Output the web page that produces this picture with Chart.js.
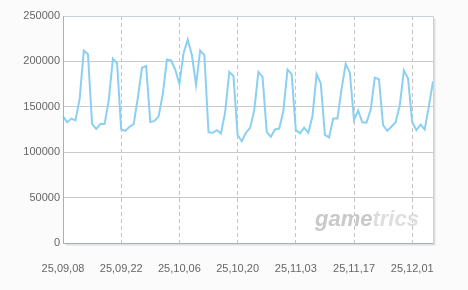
<!DOCTYPE html>
<html>
<head>
<meta charset="utf-8">
<script src="https://cdn.jsdelivr.net/npm/chart.js@4/dist/chart.umd.min.js"></script>
<style>
  html, body { margin: 0; padding: 0; background: #fbfbfb; }
  #chart { display: block; }
</style>
</head>
<body>
<canvas id="chart" width="468" height="290"></canvas>
<script>
// daily values, 2025-09-08 .. 2025-12-06
const startDate = [2025, 9, 8];
const dayCount = 90;
const values = [
  139500, 133000, 137000, 135000, 158700, 212000, 208000, 131000, 125700, 131000,
  131000, 157000, 203000, 198000, 125000, 123500, 128000, 131000, 160000, 193000,
  195000, 133000, 134500, 139500, 164000, 202000, 201000, 191000, 175000, 209000,
  224000, 207000, 174000, 212000, 207000, 122000, 121400, 124300, 120700, 144200,
  188400, 184000, 119000, 112000, 121400, 126800, 146000, 188400, 183000, 122500,
  117000, 125000, 126000, 145000, 191000, 186000, 124300, 120700, 127000, 121400,
  139500, 186000, 175700, 119000, 116300, 137000, 137000, 169500, 197400, 187600,
  135200, 146000, 133000, 132600, 146700, 182200, 180400, 129700, 123600, 128000,
  133000, 151400, 190000, 181000, 133000, 124300, 130400, 125000, 150400, 177900
];
const tickLabels = ["25,09,08", "25,09,22", "25,10,06", "25,10,20", "25,11,03", "25,11,17", "25,12,01"];
const yTicks = [0, 50000, 100000, 150000, 200000, 250000];

const pad = (n) => String(n).padStart(2, "0");
const categories = [];
for (let i = 0; i < dayCount; i++) {
  const d = new Date(startDate[0], startDate[1] - 1, startDate[2] + i);
  categories.push(pad(d.getFullYear() % 100) + "," + pad(d.getMonth() + 1) + "," + pad(d.getDate()));
}

const frame = {
  id: "frame",
  beforeDraw(chart) {
    const { ctx, chartArea: a } = chart;
    ctx.save();
    ctx.fillStyle = "#fbfbfb";
    ctx.fillRect(0, 0, chart.width, chart.height);
    ctx.fillStyle = "rgba(0,0,0,0.06)";
    ctx.fillRect(a.left + 3, a.top + 3, a.right - a.left, a.bottom - a.top);
    ctx.fillStyle = "rgba(0,0,0,0.05)";
    ctx.fillRect(a.left + 2, a.top + 2, a.right - a.left, a.bottom - a.top);
    ctx.fillStyle = "#ffffff";
    ctx.fillRect(a.left, a.top, a.right - a.left, a.bottom - a.top);
    ctx.restore();
  },
  beforeDatasetsDraw(chart) {
    const { ctx, chartArea: a } = chart;
    ctx.save();
    ctx.font = "italic bold 22px 'Liberation Sans', Arial, sans-serif";
    ctx.textBaseline = "alphabetic";
    ctx.textAlign = "left";
    const x = a.right - 118, y = a.bottom - 17;
    ctx.fillStyle = "#c9c9c9";
    ctx.fillText("game", x, y);
    const w = ctx.measureText("game").width;
    ctx.fillStyle = "#dedede";
    ctx.fillText("trics", x + w, y);
    ctx.restore();
  },
  afterDraw(chart) {
    const { ctx, chartArea: a } = chart;
    ctx.save();
    ctx.lineWidth = 1;
    ctx.strokeStyle = "#c5d0dc";
    ctx.beginPath();
    ctx.moveTo(a.left, a.top + 0.5);
    ctx.lineTo(a.right + 0.5, a.top + 0.5);
    ctx.lineTo(a.right + 0.5, a.bottom);
    ctx.stroke();
    ctx.strokeStyle = "#a3b1c0";
    ctx.beginPath();
    ctx.moveTo(a.left + 0.5, a.top);
    ctx.lineTo(a.left + 0.5, a.bottom + 0.5);
    ctx.lineTo(a.right + 0.5, a.bottom + 0.5);
    ctx.stroke();
    ctx.restore();
  }
};

new Chart(document.getElementById("chart"), {
  type: "line",
  data: {
    labels: categories,
    datasets: [
      {
        data: values,
        borderColor: "#8bd0f2",
        borderWidth: 2,
        pointRadius: 0,
        tension: 0,
        fill: false,
      },
    ],
  },
  options: {
    responsive: false,
    animation: false,
    layout: { padding: { top: 16, right: 35, left: 0, bottom: 0 } },
    plugins: { legend: { display: false }, tooltip: { enabled: false } },
    scales: {
      x: {
        offset: false,
        afterFit: (scale) => { scale.height = 47; },
        grid: {
          drawTicks: false,
          color: (c) => (c.tick && c.tick.value > 0 ? "#c4c4c4" : "rgba(0,0,0,0)"),
        },
        border: { display: false, dash: [4, 3] },
        ticks: {
          autoSkip: false,
          maxRotation: 0,
          padding: 19,
          color: "#666666",
          font: { family: "'Liberation Sans', Arial, sans-serif", size: 11 },
          callback: function (value, index) {
            if (index % 14 !== 0) return null;
            return tickLabels[index / 14];
          },
        },
      },
      y: {
        min: 0,
        max: 250000,
        afterFit: (scale) => { scale.width = 63; },
        afterBuildTicks: (scale) => { scale.ticks = yTicks.map((v) => ({ value: v })); },
        grid: {
          drawTicks: false,
          color: "#cacaca",
        },
        border: { display: false },
        ticks: {
          padding: 3,
          color: "#666666",
          font: { family: "'Liberation Sans', Arial, sans-serif", size: 11 },
          callback: (v) => String(v),
        },
      },
    },
  },
  plugins: [frame],
});
</script>
</body>
</html>
